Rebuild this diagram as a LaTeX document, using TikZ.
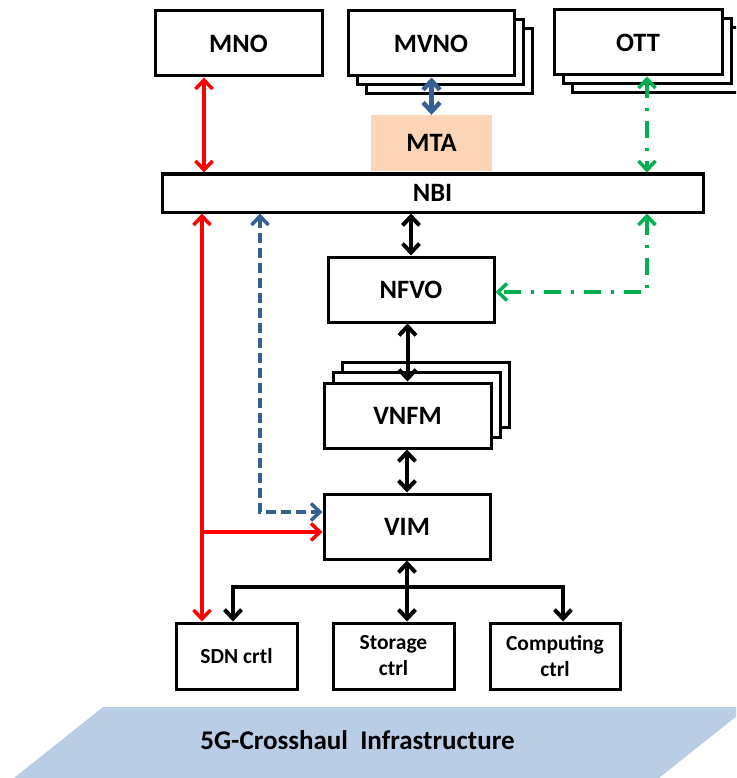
\documentclass[tikz,border=0pt]{standalone}
\usepackage{fontspec}
\setmainfont{Carlito}
\usetikzlibrary{arrows.meta,calc}
\definecolor{linkred}{RGB}{255,0,0}
\definecolor{linkblue}{RGB}{55,96,146}
\definecolor{linkgreen}{RGB}{0,176,80}
\definecolor{mtafill}{RGB}{251,213,181}
\definecolor{infrafill}{RGB}{185,205,229}
\begin{document}
\begin{tikzpicture}[x=1pt,y=-1pt,
  >={Straight Barb[length=9pt,width=17pt]},
  box/.style={draw=black, line width=3pt, fill=white, inner sep=0pt,
    minimum width=166pt, minimum height=65pt,
    font=\fontsize{26.5}{31}\selectfont\bfseries},
  ctrlbox/.style={box, minimum width=121pt, minimum height=66pt, align=center,
    font=\fontsize{21.5}{26}\selectfont\bfseries},
  redlink/.style={draw=linkred, line width=3.5pt},
  bluelink/.style={draw=linkblue, line width=3.5pt, dash pattern=on 10pt off 5pt},
  greenlink/.style={draw=linkgreen, line width=3.5pt, dash pattern=on 17pt off 10pt on 3pt off 10pt},
  blacklink/.style={draw=black, line width=4pt}
]
\useasboundingbox (0,0) rectangle (736,778);
\clip (0,0) rectangle (736,778);

% infrastructure plane
\fill[infrafill] (103,707) -- (748,707) -- (659,778) -- (14,778) -- cycle;
\node[font=\fontsize{27}{32}\selectfont\bfseries] (infra) at (357.5,740) {5G-Crosshaul\ \ Infrastructure};

% top row
\node[box, minimum width=167pt] (mno) at (238.5,43.5) {MNO};

\node[box] (mvnoC) at (449,61.5) {};
\node[box] (mvnoB) at (440,52.5) {};
\node[box] (mvno) at (431,43.5) {MVNO};

\node[box, minimum width=168pt] (ottC) at (656,60.5) {};
\node[box, minimum width=168pt] (ottB) at (647,51.5) {};
\node[box, minimum width=168pt] (ott) at (638,42.5) {OTT};

\node[fill=mtafill, minimum width=121pt, minimum height=56pt, inner sep=0pt,
  font=\fontsize{26.5}{31}\selectfont\bfseries] (mta) at (431.5,143) {MTA};

\node[box, minimum width=541pt, minimum height=38pt] (nbi) at (432.5,193) {NBI};

% MANO stack
\node[box] (nfvo) at (411,289.5) {NFVO};

\node[box, minimum width=167pt] (vnfmC) at (425.5,394.5) {};
\node[box, minimum width=167pt] (vnfmB) at (416.5,405) {};
\node[box, minimum width=167pt] (vnfm) at (407.5,415.5) {VNFM};

\node[box] (vim) at (407,526.5) {VIM};

% controllers
\node[ctrlbox] (sdn) at (236.5,656) {SDN crtl};
\node[ctrlbox] (stor) at (393.5,656) {Storage\\ctrl};
\node[ctrlbox, minimum width=130pt] (comp) at (555,656) {Computing\\ctrl};

% guide coordinates for the vertical runs
\coordinate (xmno) at (204,0);
\coordinate (xred) at (202,0);
\coordinate (xblue) at (260,0);
\coordinate (xgreen) at (647,0);
\coordinate (xsdn) at (233,0);
\coordinate (xcomp) at (563,0);
\coordinate (ybus) at (0,587);
\coordinate (ybluein) at (0,512);
\coordinate (yredin) at (0,532);
\coordinate (ygreen) at (0,292);

% red: MNO access
\draw[redlink, <->] (mno.south -| xmno) -- (nbi.north -| xmno);
\draw[redlink, <->] (nbi.south -| xred) -- (sdn.north -| xred);
\draw[redlink, ->] (xred |- yredin) -- (vim.west |- yredin);

% blue: MVNO via MTA
\draw[draw=linkblue, line width=4.5pt, <->] (mvno.south -| mta.north) -- (mta.north);
\draw[bluelink, <->] (nbi.south -| xblue) |- (vim.west |- ybluein);

% green: OTT
\draw[greenlink, <->] (ott.south -| xgreen) -- (nbi.north -| xgreen);
\draw[greenlink, <->] (nbi.south -| xgreen) |- (nfvo.east |- ygreen);

% black: MANO chain
\draw[blacklink, <->] (nbi.south -| nfvo.north) -- (nfvo.north);
\draw[blacklink, <->] (nfvo.south -| vnfm.north) -- (vnfm.north);
\draw[blacklink, <->] (vnfm.south -| vim.north) -- (vim.north);
\draw[blacklink, <->] (vim.south) -- (stor.north -| vim.south);
\draw[blacklink, ->] (ybus -| vim.south) -| (sdn.north -| xsdn);
\draw[blacklink, ->] (ybus -| vim.south) -| (comp.north -| xcomp);
\end{tikzpicture}
\end{document}
